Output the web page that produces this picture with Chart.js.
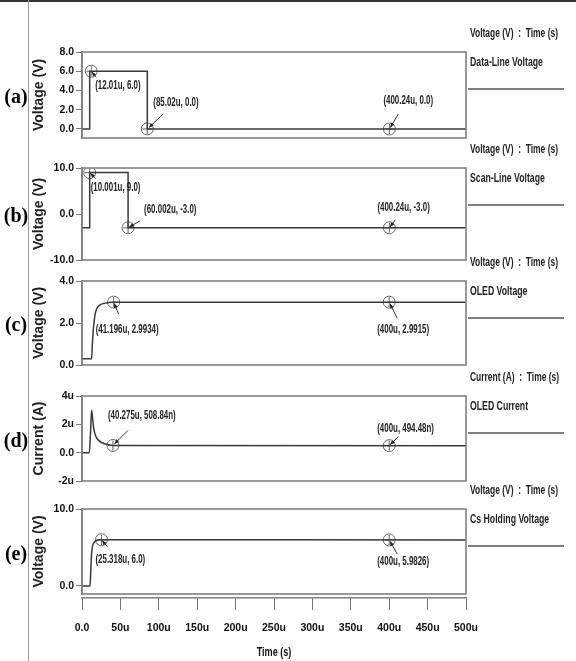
<!DOCTYPE html>
<html>
<head>
<meta charset="utf-8">
<script src="https://cdn.jsdelivr.net/npm/chart.js@4.4.1/dist/chart.umd.min.js"></script>
<style>
html, body { margin: 0; padding: 0; background: #fff; }
#page { position: relative; width: 576px; height: 661px; overflow: hidden; }
#page canvas { position: absolute; left: 0; }
.rule-top { position: absolute; left: 0; top: 0; width: 576px; height: 2px; background: #333; }
.rule-left { position: absolute; left: 28px; top: 0; width: 1px; height: 661px; background: #999; }
</style>
</head>
<body>
<div id="page">
  <div class="rule-top"></div>
  <div class="rule-left"></div>
</div>
<script>
// Shared time axis (microseconds)
const timeTicks = [0, 50, 100, 150, 200, 250, 300, 350, 400, 450, 500];
const timeTickLabels = ['0.0', '50u', '100u', '150u', '200u', '250u', '300u', '350u', '400u', '450u', '500u'];

// (a) Data-Line Voltage
const dataLineTime = [0, 10, 10, 85, 85, 500];
const dataLineVolt = [0, 0, 6, 6, 0, 0];
const dataLineMarkTime = [12.01, 85.02, 400.24];
const dataLineMarkVal = [6.0, 0.0, 0.0];
const dataLineMarkText = ['(12.01u, 6.0)', '(85.02u, 0.0)', '(400.24u, 0.0)'];
const dataLineTicks = [0, 2, 4, 6, 8];
const dataLineTickLabels = ['0.0', '2.0', '4.0', '6.0', '8.0'];

// (b) Scan-Line Voltage
const scanLineTime = [0, 10, 10, 60, 60, 500];
const scanLineVolt = [-3, -3, 9, 9, -3, -3];
const scanLineMarkTime = [10.001, 60.002, 400.24];
const scanLineMarkVal = [9.0, -3.0, -3.0];
const scanLineMarkText = ['(10.001u, 9.0)', '(60.002u, -3.0)', '(400.24u, -3.0)'];
const scanLineTicks = [-10, 0, 10];
const scanLineTickLabels = ['-10.0', '0.0', '10.0'];

// (c) OLED Voltage
const oledVTime = [0, 12.5, 13.5, 15, 17, 19.5, 23, 28, 34, 41.2, 500];
const oledVolt = [0.3, 0.3, 1.0, 1.8, 2.4, 2.7, 2.85, 2.93, 2.97, 2.99, 2.99];
const oledVMarkTime = [41.196, 400];
const oledVMarkVal = [2.9934, 2.9915];
const oledVMarkText = ['(41.196u, 2.9934)', '(400u, 2.9915)'];
const oledVTicks = [0, 2, 4];
const oledVTickLabels = ['0.0', '2.0', '4.0'];

// (d) OLED Current (uA)
const oledITime = [0, 9.5, 11, 12.5, 13.5, 15, 17, 19, 22, 26, 32, 40.3, 500];
const oledCurrent = [0, 0, 1.3, 3.0, 2.6, 1.8, 1.3, 1.05, 0.85, 0.7, 0.6, 0.51, 0.494];
const oledIMarkTime = [40.275, 400];
const oledIMarkVal = [0.50884, 0.49448];
const oledIMarkText = ['(40.275u, 508.84n)', '(400u, 494.48n)'];
const oledITicks = [-2, 0, 2, 4];
const oledITickLabels = ['-2u', '0.0', '2u', '4u'];

// (e) Cs Holding Voltage
const csTime = [0, 10.5, 11.5, 12.5, 14, 16, 19, 22, 25.3, 500];
const csVolt = [0, 0, 2.2, 4.2, 5.3, 5.7, 5.9, 5.97, 6.0, 5.98];
const csMarkTime = [25.318, 400];
const csMarkVal = [6.0, 5.9826];
const csMarkText = ['(25.318u, 6.0)', '(400u, 5.9826)'];
const csTicks = [0, 10];
const csTickLabels = ['0.0', '10.0'];

const SANS = '"Liberation Sans", Arial, sans-serif';
const page = document.getElementById('page');

const panels = [
    { letter: '(a)', name: 'Data-Line Voltage', header: 'Voltage (V)  :  Time (s)', yTitle: 'Voltage (V)',
      time: dataLineTime, vals: dataLineVolt, markX: dataLineMarkTime, markY: dataLineMarkVal, markText: dataLineMarkText,
      ticks: dataLineTicks, tickLabels: dataLineTickLabels, yMin: -0.94, yMax: 8, boxTop: 52, boxBottom: 138, curve: false,
      labelPos: [[4, 14, 5, 6], [6, -26, 16, -15], [-6, -28, 9, -15]] },
    { letter: '(b)', name: 'Scan-Line Voltage', header: 'Voltage (V)  :  Time (s)', yTitle: 'Voltage (V)',
      time: scanLineTime, vals: scanLineVolt, markX: scanLineMarkTime, markY: scanLineMarkVal, markText: scanLineMarkText,
      ticks: scanLineTicks, tickLabels: scanLineTickLabels, yMin: -10, yMax: 10, boxTop: 168, boxBottom: 260, curve: false,
      labelPos: [[1, 15, 6, 6], [16, -18, 12, -7], [-12, -20, 6, -8]] },
    { letter: '(c)', name: 'OLED Voltage', header: 'Voltage (V)  :  Time (s)', yTitle: 'Voltage (V)',
      time: oledVTime, vals: oledVolt, markX: oledVMarkTime, markY: oledVMarkVal, markText: oledVMarkText,
      ticks: oledVTicks, tickLabels: oledVTickLabels, yMin: 0, yMax: 4, boxTop: 281, boxBottom: 365, curve: true,
      labelPos: [[-18, 28, 5, 12], [-12, 28, 8, 16]] },
    { letter: '(d)', name: 'OLED Current', header: 'Current (A)  :  Time (s)', yTitle: 'Current (A)',
      time: oledITime, vals: oledCurrent, markX: oledIMarkTime, markY: oledIMarkVal, markText: oledIMarkText,
      ticks: oledITicks, tickLabels: oledITickLabels, yMin: -2, yMax: 4, boxTop: 396, boxBottom: 481, curve: true,
      labelPos: [[-5, -30, 15, -15], [-12, -17, 9, -9]] },
    { letter: '(e)', name: 'Cs Holding Voltage', header: 'Voltage (V)  :  Time (s)', yTitle: 'Voltage (V)',
      time: csTime, vals: csVolt, markX: csMarkTime, markY: csMarkVal, markText: csMarkText,
      ticks: csTicks, tickLabels: csTickLabels, yMin: -1.05, yMax: 10, boxTop: 509, boxBottom: 594, curve: true,
      labelPos: [[-6, 20, 6, 7], [-12, 22, 8, 14]] }
];

// no narrow face installed, so squeeze the text horizontally
function narrowText(ctx, text, x, y, sx) {
    ctx.save();
    ctx.translate(x, y);
    ctx.scale(sx, 1);
    ctx.fillText(text, 0, 0);
    ctx.restore();
}

function drawArrow(ctx, sx, sy, ex, ey) {
    const ang = Math.atan2(ey - sy, ex - sx);
    ctx.beginPath();
    ctx.moveTo(sx, sy);
    ctx.lineTo(ex, ey);
    ctx.stroke();
    ctx.beginPath();
    ctx.moveTo(ex, ey);
    ctx.lineTo(ex - 5 * Math.cos(ang - 0.4), ey - 5 * Math.sin(ang - 0.4));
    ctx.lineTo(ex - 5 * Math.cos(ang + 0.4), ey - 5 * Math.sin(ang + 0.4));
    ctx.closePath();
    ctx.fill();
}

// Box, side legend, panel letter and marker notes
function decor(p) {
    return {
        id: 'decor',
        afterDraw(chart) {
            const { ctx, chartArea: a, scales: { x, y } } = chart;
            ctx.save();
            ctx.strokeStyle = '#808080';
            ctx.lineWidth = 1.6;
            ctx.strokeRect(a.left, a.top, a.right - a.left, a.bottom - a.top);

            ctx.fillStyle = '#000';
            ctx.textBaseline = 'middle';
            ctx.textAlign = 'center';
            ctx.font = 'bold 20px "Liberation Serif", "Times New Roman", serif';
            ctx.fillText(p.letter, 16, (a.top + a.bottom) / 2 + 3);

            ctx.textAlign = 'left';
            ctx.font = 'bold 13px ' + SANS;
            ctx.fillStyle = '#222';
            narrowText(ctx, p.header, 470, a.top - 19, 0.65);
            narrowText(ctx, p.name, 470, a.top + 10, 0.67);
            ctx.strokeStyle = '#555';
            ctx.lineWidth = 1.4;
            ctx.beginPath();
            ctx.moveTo(468, a.top + 37);
            ctx.lineTo(564, a.top + 37);
            ctx.stroke();

            ctx.font = 'bold 12px ' + SANS;
            ctx.strokeStyle = '#333';
            ctx.fillStyle = '#222';
            ctx.lineWidth = 1;
            p.markX.forEach((mx, i) => {
                const px = x.getPixelForValue(mx);
                const py = y.getPixelForValue(p.markY[i]);
                const [dx, dy, ax, ay] = p.labelPos[i];
                narrowText(ctx, p.markText[i], px + dx, py + dy, 0.66);
                drawArrow(ctx, px + ax, py + ay, px + ax * 0.1, py + ay * 0.1);
            });
            ctx.restore();
        }
    };
}

function makePanel(p) {
    const cv = document.createElement('canvas');
    const top = p.boxTop - 32;
    const h = p.boxBottom - top + 12;
    cv.width = 576;
    cv.height = h;
    cv.style.top = top + 'px';
    page.appendChild(cv);

    const marks = p.markX.map((t, i) => ({ x: t, y: p.markY[i] }));

    new Chart(cv, {
        data: {
            datasets: [
                {
                    type: 'line',
                    data: p.time.map((t, i) => ({ x: t, y: p.vals[i] })),
                    borderColor: '#3a3a3a',
                    borderWidth: 1.5,
                    pointRadius: 0,
                    tension: 0,
                    cubicInterpolationMode: p.curve ? 'monotone' : 'default',
                    fill: false
                },
                {
                    type: 'scatter',
                    data: marks,
                    pointStyle: 'circle',
                    pointRadius: 6,
                    borderColor: '#666',
                    backgroundColor: 'rgba(255,255,255,0)',
                    borderWidth: 1
                },
                {
                    type: 'scatter',
                    data: marks,
                    pointStyle: 'cross',
                    pointRadius: 5,
                    borderColor: '#666',
                    borderWidth: 1
                }
            ]
        },
        options: {
            responsive: false,
            animation: false,
            devicePixelRatio: 1,
            layout: { padding: { left: 31, right: 110, top: 32, bottom: 12 } },
            plugins: { legend: { display: false }, tooltip: { enabled: false } },
            scales: {
                x: { type: 'linear', display: false, min: 0, max: 500 },
                y: {
                    min: p.yMin,
                    max: p.yMax,
                    afterFit: s => { s.width = 51; },
                    afterBuildTicks: s => { s.ticks = p.ticks.map(v => ({ value: v })); },
                    ticks: {
                        autoSkip: false,
                        padding: 2,
                        color: '#111',
                        font: { family: SANS, size: 10.5, weight: 'bold' },
                        callback: v => p.tickLabels[p.ticks.indexOf(v)]
                    },
                    grid: { drawOnChartArea: false, tickLength: 6, color: '#777' },
                    border: { color: '#808080', width: 1.6 },
                    title: {
                        display: true,
                        text: p.yTitle,
                        padding: 0,
                        color: '#222',
                        font: { family: SANS, size: 14, weight: 'bold' }
                    }
                }
            }
        },
        plugins: [decor(p)]
    });
}

panels.forEach(makePanel);

// Shared time axis underneath
function makeTimeAxis() {
    const cv = document.createElement('canvas');
    cv.width = 576;
    cv.height = 75;
    cv.style.top = '586px';
    page.appendChild(cv);
    new Chart(cv, {
        type: 'scatter',
        data: { datasets: [] },
        options: {
            responsive: false,
            animation: false,
            devicePixelRatio: 1,
            layout: { padding: { left: 82, right: 110, top: 4, bottom: 0 } },
            plugins: { legend: { display: false }, tooltip: { enabled: false } },
            scales: {
                y: { display: false, min: 0, max: 1 },
                x: {
                    type: 'linear',
                    min: 0,
                    max: 500,
                    afterFit: s => { s.height = 63; },
                    afterBuildTicks: s => { s.ticks = timeTicks.map(v => ({ value: v })); },
                    ticks: {
                        autoSkip: false,
                        maxRotation: 0,
                        padding: 12,
                        color: '#111',
                        font: { family: SANS, size: 10.5, weight: 'bold' },
                        callback: v => timeTickLabels[timeTicks.indexOf(v)]
                    },
                    grid: { drawOnChartArea: false, tickLength: 12, color: '#777' },
                    border: { color: '#808080', width: 1.4 }
                }
            }
        },
        plugins: [{
            id: 'timeTitle',
            afterDraw(chart) {
                const { ctx, chartArea: a } = chart;
                ctx.save();
                ctx.font = 'bold 13px ' + SANS;
                ctx.fillStyle = '#111';
                ctx.textBaseline = 'middle';
                ctx.textAlign = 'center';
                narrowText(ctx, 'Time (s)', (a.left + a.right) / 2, 66, 0.7);
                ctx.restore();
            }
        }]
    });
}

makeTimeAxis();
</script>
</body>
</html>
